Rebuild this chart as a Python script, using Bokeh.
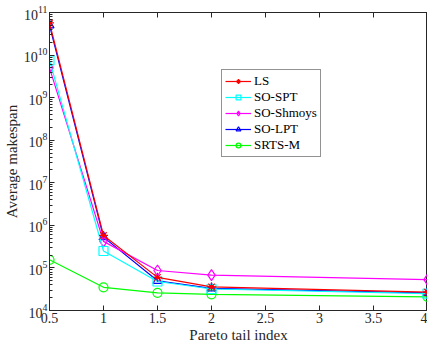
from bokeh.plotting import figure
from bokeh.models import Range1d, FixedTicker, LinearAxis, Legend, LegendItem, CustomJSTickFormatter
from bokeh.embed import file_html
from bokeh.resources import INLINE

x = [0.5, 1, 1.5, 2, 4]
ls = [5.7e10, 5.8e5, 6.0e4, 3.6e4, 2.7e4]
so_spt = [7.5e9, 2.5e5, 4.8e4, 3.2e4, 2.5e4]
so_shmoys = [5.0e9, 4.2e5, 8.7e4, 6.8e4, 5.3e4]
so_lpt = [5.0e10, 5.3e5, 5.0e4, 3.3e4, 2.6e4]
srts_m = [1.55e5, 3.5e4, 2.6e4, 2.4e4, 2.1e4]
x_ticks = [0.5, 1, 1.5, 2, 2.5, 3, 3.5, 4]
x_tick_labels = ["0.5", "1", "1.5", "2", "2.5", "3", "3.5", "4"]

FONT = "'Liberation Serif'"

p = figure(width=427, height=349, y_axis_type="log", output_backend="svg",
           toolbar_location=None, x_range=Range1d(0.5, 4), y_range=Range1d(1e4, 1e11),
           min_border_left=49, min_border_right=0, min_border_top=12, min_border_bottom=39)
p.grid.visible = False
p.outline_line_color = "#262626"
p.background_fill_color = "white"

series = [
    ("LS", ls, "#ff0000", "asterisk"),
    ("SO-SPT", so_spt, "#00ffff", "square"),
    ("SO-Shmoys", so_shmoys, "#ff00ff", "diamond"),
    ("SO-LPT", so_lpt, "#0000ff", "triangle"),
    ("SRTS-M", srts_m, "#00ff00", "circle"),
]
renderers = {}
for name, ys, col, mk in reversed(series):
    l = p.line(x, ys, line_color=col, line_width=1.2)
    size = 11 if mk == "diamond" else 9
    m = p.scatter(x, ys, marker=mk, size=size, line_color=col, fill_color=None, line_width=1.2)
    renderers[name] = [l, m]

items = [LegendItem(label=name, renderers=renderers[name]) for name, _, _, _ in series]
legend = Legend(items=items, location=(172, 153), label_text_font=FONT,
                label_text_font_size="13px", label_text_color="black",
                border_line_color="#262626", border_line_width=1,
                glyph_width=26, glyph_height=12, spacing=0, padding=3, margin=0,
                label_standoff=3, label_height=12)
p.add_layout(legend, "center")

p.xaxis.ticker = FixedTicker(ticks=x_ticks)
p.xaxis.major_label_overrides = dict(zip(x_ticks, x_tick_labels))
p.xaxis.axis_label = "Pareto tail index"
p.yaxis.axis_label = "Average makespan"
for ax in [p.xaxis[0], p.yaxis[0]]:
    ax.axis_label_text_font = FONT
    ax.axis_label_text_font_style = "normal"
    ax.axis_label_text_font_size = "15px"
    ax.axis_label_text_color = "#262626"
    ax.major_label_text_font = FONT
    ax.major_label_text_font_size = "14px"
    ax.major_label_text_color = "#262626"
    ax.axis_line_color = "#262626"
    ax.major_tick_line_color = "#262626"
    ax.minor_tick_line_color = "#262626"
    ax.major_tick_in = 5
    ax.major_tick_out = 0
    ax.minor_tick_in = 3
    ax.minor_tick_out = 0
    ax.axis_label_standoff = 1
    ax.major_label_standoff = 2
p.xaxis.minor_tick_line_color = None

top = LinearAxis(ticker=FixedTicker(ticks=x_ticks),
                 formatter=CustomJSTickFormatter(code="return ''"),
                 major_tick_in=5, major_tick_out=0,
                 minor_tick_line_color=None, axis_line_color="#262626",
                 major_tick_line_color="#262626")
p.add_layout(top, "above")

open("out.html", "w").write(file_html(p, INLINE))
